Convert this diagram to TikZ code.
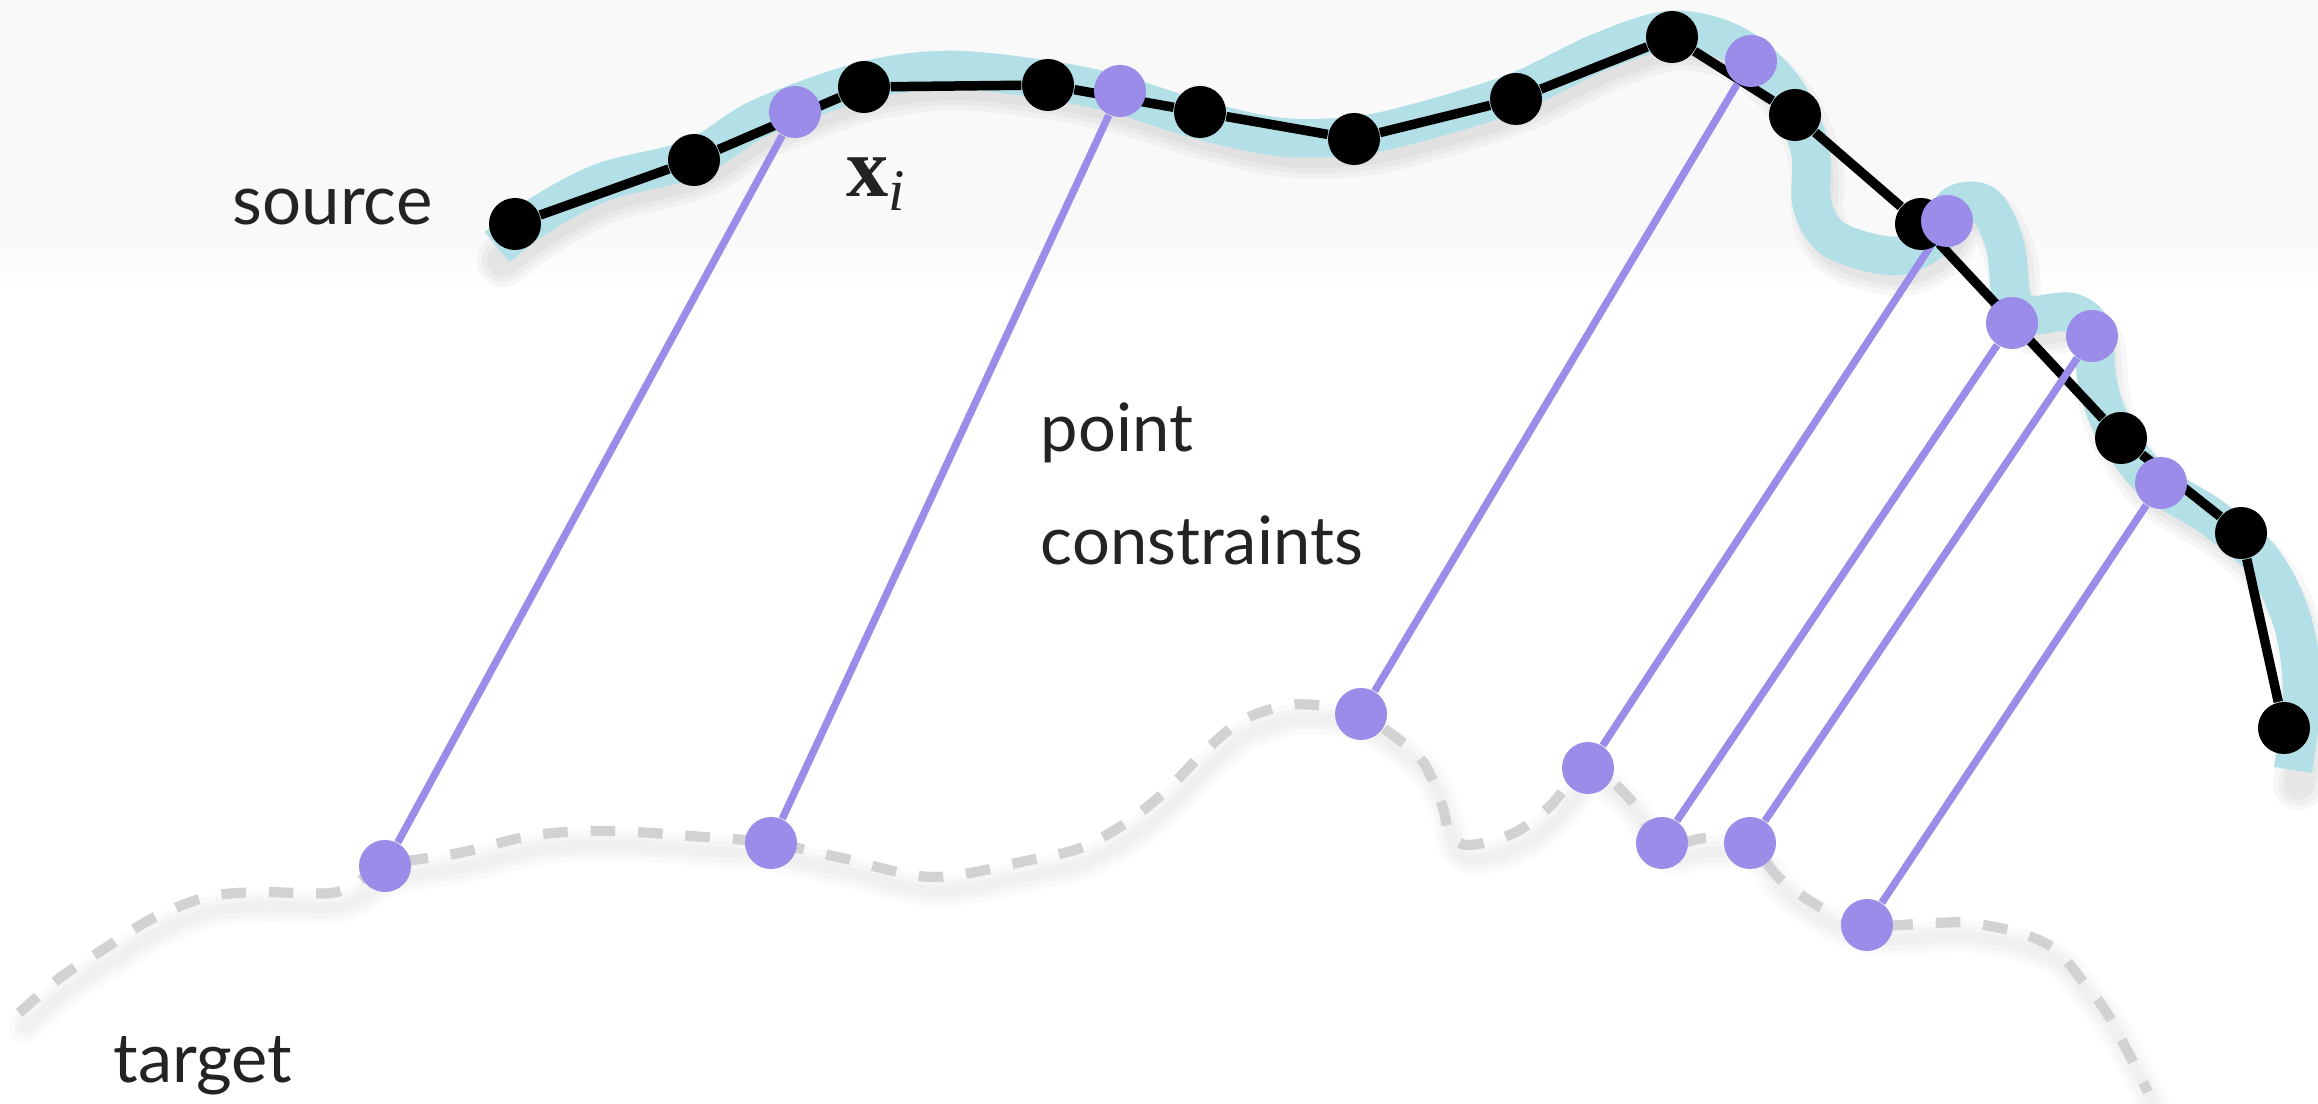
\documentclass[tikz,border=0pt]{standalone}
\usepackage{fontspec}
\setmainfont{Lato}
\newfontfamily\serifmath{Liberation Serif}
\usepackage{tikz}
\usetikzlibrary{backgrounds}
\definecolor{DotPurple}{HTML}{9B8CEA}
\definecolor{BandCyan}{HTML}{B3E0E6}
\definecolor{DashGray}{HTML}{D1D2D4}
\definecolor{PaperGray}{HTML}{F9F9FA}
\definecolor{LabelInk}{HTML}{232323}
\tikzset{
  srcdot/.style={circle, fill=black, minimum size=0.52cm, inner sep=0pt},
  pindot/.style={circle, fill=DotPurple, minimum size=0.52cm, inner sep=0pt},
  srcline/.style={line width=2.7pt, draw=black, line join=round},
  srcband/.style={line width=11pt, draw=BandCyan, line join=round},
  matchline/.style={line width=2.1pt, draw=DotPurple},
  tgtcurve/.style={line width=2.9pt, draw=DashGray, dash pattern=on 7pt off 6.5pt},
  softshadow/.style={draw=black, opacity=0.03, line join=round, line cap=round},
  biglabel/.style={text=LabelInk, inner sep=0pt, anchor=base west}
}
% smooth curves, in pixel units of the picture
\def\bandpath{plot[smooth, tension=0.55] coordinates {(497,247) (540,215) (603,182) (694,158) (760,118) (864,81) (950,70) (1048,80) (1120,95) (1200,120) (1280,137) (1354,136) (1420,122) (1516,92) (1600,52) (1672,30) (1735,45) (1785,90) (1810,150) (1812,205) (1835,240) (1895,256) (1935,238) (1955,205) (1985,205) (2005,245) (2012,300) (2030,315) (2070,312) (2092,330) (2097,380) (2112,425) (2150,478) (2210,516) (2262,560) (2292,620) (2302,690) (2293,770)}}
\def\targetpath{plot[smooth, tension=0.55] coordinates {(19,1013) (61,977) (107,947) (153,918) (207,897) (260,892) (337,892) (385,866) (459,853) (536,835) (612,831) (704,837) (771,843) (842,858) (933,877) (1030,860) (1083,847) (1130,820) (1170,787) (1203,753) (1243,720) (1290,705) (1333,707) (1361,714) (1390,733) (1423,762) (1442,805) (1450,835) (1470,845) (1514,833) (1549,807) (1588,768) (1628,797) (1662,843) (1706,838) (1750,843) (1778,877) (1820,907) (1867,925) (1934,923) (1970,923) (2020,933) (2056,950) (2084,983) (2105,1010) (2127,1050) (2148,1092)}}

\begin{document}
\begin{tikzpicture}[x=0.01cm, y=-0.01cm]
\useasboundingbox (0,0) rectangle (2318,1104);

% source samples and constraint points
\foreach \n/\x/\y in {s1/515/224, s2/694/160, s3/864/87, s4/1048/85, s5/1200/112, s6/1354/139, s7/1516/99, s8/1672/37, s9/1795/115, s10/1921/224, s11/2121/438, s12/2241/533, s13/2284/728}
  \node[srcdot] (\n) at (\x,\y) {};
\foreach \n/\x/\y in {p1/795/112, p2/1120/91, p3/1751/61, p4/1947/221, p5/2012/323, p6/2092/336, p7/2161/483}
  \node[pindot] (\n) at (\x,\y) {};
\foreach \n/\x/\y in {t1/385/866, t2/771/843, t3/1361/714, t4/1588/768, t5/1662/843, t6/1750/843, t7/1867/925}
  \node[pindot] (\n) at (\x,\y) {};

\node[biglabel, font=\fontsize{19.6}{24}\selectfont] (srclbl) at (232,225) {source};
\node[biglabel, font=\fontsize{24}{28}\selectfont\serifmath] (xlbl) at (846,197) {\textbf{x}\textsubscript{\textit{i}}};
\node[biglabel, font=\fontsize{19}{22}\selectfont] (ptlbl) at (1040,452) {point};
\node[biglabel, font=\fontsize{19}{22}\selectfont] (cnlbl) at (1040,565) {constraints};
\node[biglabel, font=\fontsize{19.5}{22}\selectfont] (tgtlbl) at (113,1083) {target};

\begin{scope}[on background layer]
  \fill[white] (0,0) rectangle (2318,1104);
  \fill[PaperGray] (0,0) rectangle (2318,235);
  \shade[top color=PaperGray, bottom color=white] (0,235) rectangle (2318,290);
  % blurred shadows
  \begin{scope}[shift={(6,14)}]
    \foreach \w in {9,12,15} \draw[softshadow, line width=\w pt] \bandpath;
    \foreach \w in {3,6,9} \draw[softshadow, opacity=0.02, line width=\w pt] \targetpath;
  \end{scope}
  \draw[srcband] \bandpath;
  \draw[tgtcurve] \targetpath;
  \draw[srcline] (s1) -- (s2) -- (s3) -- (s4) -- (s5) -- (s6) -- (s7) -- (s8) -- (s9) -- (s10) -- (s11) -- (s12) -- (s13);
  \foreach \i in {1,...,7} \draw[matchline] (p\i) -- (t\i);
\end{scope}
\end{tikzpicture}
\end{document}
